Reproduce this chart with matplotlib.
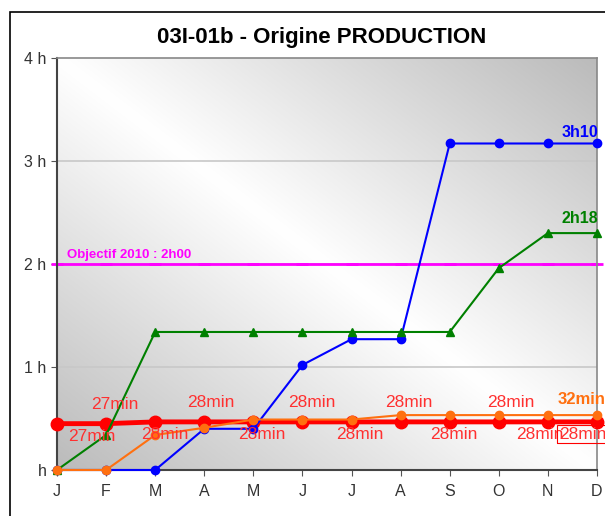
import numpy as np
import matplotlib.pyplot as plt
from matplotlib.patches import Rectangle
from matplotlib.colors import LinearSegmentedColormap

plt.rcParams['font.family'] = ['Liberation Sans', 'DejaVu Sans']

months = ["J", "F", "M", "A", "M", "J", "J", "A", "S", "O", "N", "D"]
blue_vals = [0, 0, 0, 0.40, 0.40, 1.02, 1.27, 1.27, 3.17, 3.17, 3.17, 3.17]
green_vals = [0, 0.34, 1.34, 1.34, 1.34, 1.34, 1.34, 1.34, 1.34, 1.96, 2.30, 2.30]
orange_vals = [0, 0, 0.34, 0.41, 0.49, 0.49, 0.49, 0.533, 0.533, 0.533, 0.533, 0.533]
red_vals = [0.45, 0.45, 0.467, 0.467, 0.467, 0.467, 0.467, 0.467, 0.467, 0.467, 0.467, 0.467]
red_labels = ["27min", "27min", "28min", "28min", "28min", "28min",
              "28min", "28min", "28min", "28min", "28min", "28min"]
objective = 2.0
objective_label = "Objectif 2010 : 2h00"
blue_end_label = "3h10"
green_end_label = "2h18"
orange_end_label = "32min"
title = "03I-01b - Origine PRODUCTION"

fig = plt.figure(figsize=(6.05, 5.16), dpi=100)
fig.patches.append(Rectangle((10 / 605, -0.1), 1.2, 1 - 12 / 516 + 0.1,
                             transform=fig.transFigure, fill=False,
                             edgecolor="black", lw=1.2))
ax = fig.add_axes([57 / 605, 46 / 516, 540 / 605, 412 / 516])

x = np.arange(len(months))

# diagonal gradient background: light top-left / bottom-right, grey other corners
gx, gy = np.meshgrid(np.linspace(0, 1, 200), np.linspace(0, 1, 200))
g = np.abs(gx + gy - 1)
bg_cmap = LinearSegmentedColormap.from_list("bg", ["#ffffff", "#bbbbbb"])
ax.imshow(g, extent=[0, 11, 0, 4], origin="lower", cmap=bg_cmap, vmin=0,
          vmax=1, aspect="auto", zorder=0, interpolation="bilinear")

for yv in [1, 2, 3]:
    ax.axhline(yv, color="#c8c8c8", lw=1.2, zorder=1)

ax.plot(x, [objective] * len(x), color="#ff00ff", lw=2, marker="_", ms=8,
        mew=2, zorder=2, clip_on=False)
ax.text(0.2, objective + 0.03, objective_label, color="#ff00ff",
        fontsize=9.5, fontweight="bold", va="bottom", ha="left")

ax.plot(x, red_vals, color="#ff0000", lw=3.5, marker="o", ms=9, zorder=3,
        clip_on=False)
ax.plot(x, blue_vals, color="#0000ff", lw=1.5, marker="o", ms=6, zorder=4,
        clip_on=False)
ax.plot(x, green_vals, color="#008000", lw=1.5, marker="^", ms=6, zorder=5,
        clip_on=False)
ax.plot(x, orange_vals, color="#ff7010", lw=1.5, marker="o", ms=6, zorder=6,
        clip_on=False)

# red data labels, alternating below / above (last one below, boxed)
dx = [0.70, 0.17, 0.20, 0.14, 0.17, 0.19, 0.16, 0.17, 0.09, 0.24, -0.17, -0.29]
above = [False, True, False, True, False, True, False, True, False, True, False, False]
for i, (v, lab) in enumerate(zip(red_vals, red_labels)):
    yy = v + 0.19 if above[i] else v - 0.12
    bbox = None
    if i == len(red_vals) - 1:
        bbox = dict(boxstyle="square,pad=0.1", fc="none", ec="#ff0000", lw=0.8)
    ax.text(i + dx[i], yy, lab, color="#ff3030", fontsize=12.5, ha="center",
            va="center", zorder=7, bbox=bbox, clip_on=False)

ax.text(11 - 0.32, 0.68, orange_end_label, color="#ff7010", fontsize=12,
        fontweight="bold", ha="center", va="center", zorder=7, clip_on=False)
ax.text(11.02, 3.28, blue_end_label, color="#0000ff", fontsize=11.5,
        fontweight="bold", ha="right", va="center", zorder=7, clip_on=False)
ax.text(11.02, 2.44, green_end_label, color="#008000", fontsize=11.5,
        fontweight="bold", ha="right", va="center", zorder=7, clip_on=False)

ax.set_xlim(0, 11)
ax.set_ylim(0, 4)
ax.set_xticks(x)
ax.set_xticklabels(months, fontsize=11.5, color="#333333")
ax.set_yticks([0, 1, 2, 3, 4])
ax.set_yticklabels(["h", "1 h", "2 h", "3 h", "4 h"], fontsize=11.5,
                   color="#333333")
ax.tick_params(axis="both", direction="out", length=4, color="#555555")
ax.tick_params(axis="x", pad=6)
for side in ["left", "bottom"]:
    ax.spines[side].set_color("#444444")
    ax.spines[side].set_linewidth(1.5)
for side in ["right", "top"]:
    ax.spines[side].set_color("#888888")
    ax.spines[side].set_linewidth(1.2)

fig.text(322 / 605, 1 - 38 / 516, title, fontsize=16, fontweight="bold",
         ha="center", va="center")

fig.savefig("out.png", dpi=100)
